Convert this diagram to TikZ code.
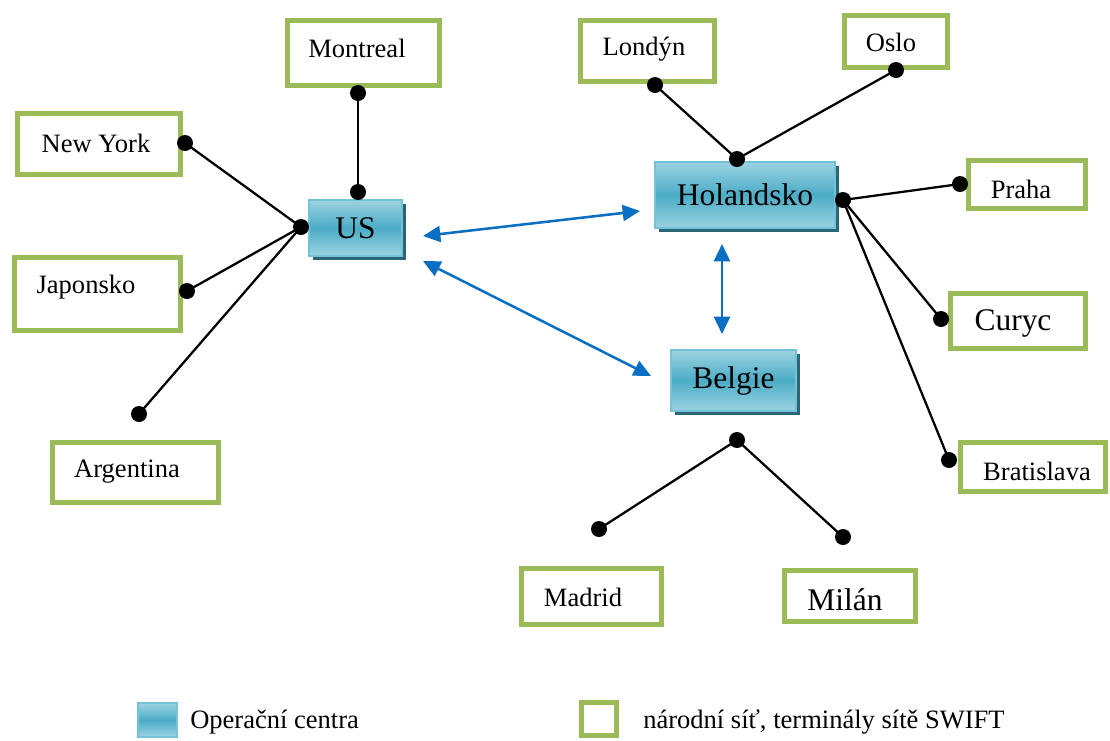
\documentclass[tikz,border=0pt]{standalone}
\usepackage{fontspec}
\setmainfont{Liberation Serif}
\usetikzlibrary{arrows.meta,shadows}
\definecolor{termgreen}{HTML}{9BBB59}
\definecolor{boxlight}{HTML}{9CD3E2}
\definecolor{boxmid}{HTML}{4BACC6}
\definecolor{boxedge}{HTML}{72C3D8}
\definecolor{shadowc}{HTML}{2C6676}
\definecolor{arrowblue}{HTML}{0A6FC2}
\begin{document}
\begin{tikzpicture}[x=0.75pt,y=-0.75pt,
  term/.style={draw=termgreen, line width=3.75pt, fill=white, inner sep=0pt, outer sep=0pt},
  ctrfill/.style={draw=boxedge, line width=1.5pt, top color=boxlight, bottom color=boxlight, middle color=boxmid, inner sep=0pt},
  ctr/.style={ctrfill, drop shadow={shadow xshift=3pt, shadow yshift=-3pt, fill=shadowc, opacity=1}, font=\fontsize{23.6}{28}\selectfont},
  sm/.style={font=\fontsize{19.9}{24}\selectfont, inner sep=0pt},
  lg/.style={font=\fontsize{23.6}{28}\selectfont, inner sep=0pt},
  dot/.style={circle, fill=black, inner sep=0pt, minimum size=12pt},
  link/.style={line width=1.7pt},
  biarrow/.style={arrowblue, line width=1.9pt, {Triangle[length=13pt,width=12pt]}-{Triangle[length=13pt,width=12pt]}}
]
\useasboundingbox (0,0) rectangle (1110,740);

% terminal boxes
\node[term, minimum width=114pt, minimum height=48.75pt] (mtlB) at (363.5,53) {};
\node[sm] (mtl) at (357,48) {Montreal};
\node[term, minimum width=122.25pt, minimum height=45.75pt] (nyB) at (99,144) {};
\node[sm] (ny) at (96,143) {New York};
\node[term, minimum width=124.5pt, minimum height=54.75pt] (jpB) at (97.5,294) {};
\node[sm] (jp) at (86,287) {Japonsko};
\node[term, minimum width=124.5pt, minimum height=45pt] (arB) at (135.5,472.5) {};
\node[sm] (ar) at (127,472) {Argentina};
\node[term, minimum width=100.5pt, minimum height=45.75pt] (lonB) at (647.5,51) {};
\node[sm] (lon) at (644,49) {Londýn};
\node[term, minimum width=77.25pt, minimum height=39pt] (osB) at (896,41.5) {};
\node[sm] (os) at (891,42) {Oslo};
\node[term, minimum width=87.75pt, minimum height=36pt] (prB) at (1027,184.5) {};
\node[sm] (pr) at (1021,189) {Praha};
\node[term, minimum width=101.25pt, minimum height=41.25pt] (cuB) at (1018,321) {};
\node[lg] (cu) at (1013,323) {Curyc};
\node[term, minimum width=108.75pt, minimum height=36.75pt] (brB) at (1033,467) {};
\node[sm] (br) at (1037,471) {Bratislava};
\node[term, minimum width=105pt, minimum height=42pt] (maB) at (591.5,596.5) {};
\node[sm] (ma) at (583,597) {Madrid};
\node[term, minimum width=98.25pt, minimum height=38.25pt] (miB) at (850,596) {};
\node[lg] (mi) at (845,600) {Milán};

% operation centres
\node[ctr, minimum width=69.75pt, minimum height=42pt] (us) at (355.5,228) {US};
\node[ctr, minimum width=135pt, minimum height=49.5pt] (hol) at (745,195) {Holandsko};
\node[ctr, minimum width=93.75pt, minimum height=45.75pt] (bel) at (733.5,380.5) {Belgie};

% dots
\node[dot] (dMtl) at (358,93) {};
\node[dot] (dUsT) at (358,192) {};
\node[dot] (dUsL) at (301,227) {};
\node[dot] (dNy) at (185,143) {};
\node[dot] (dJp) at (187,291) {};
\node[dot] (dAr) at (139,414) {};
\node[dot] (dLon) at (655,85) {};
\node[dot] (dOs) at (896,70) {};
\node[dot] (dHolT) at (737,159) {};
\node[dot] (dHolR) at (843,200) {};
\node[dot] (dPr) at (960,184) {};
\node[dot] (dCu) at (941,319) {};
\node[dot] (dBr) at (949,460) {};
\node[dot] (dBelB) at (737,440) {};
\node[dot] (dMa) at (599,529) {};
\node[dot] (dMi) at (843,537) {};

% links
\draw[link] (dMtl.center) -- (dUsT.center);
\draw[link] (dNy.center) -- (dUsL.center);
\draw[link] (dJp.center) -- (dUsL.center);
\draw[link] (dAr.center) -- (dUsL.center);
\draw[link] (dLon.center) -- (dHolT.center);
\draw[link] (dOs.center) -- (dHolT.center);
\draw[link] (dHolR.center) -- (dPr.center);
\draw[link] (dHolR.center) -- (dCu.center);
\draw[link] (dHolR.center) -- (dBr.center);
\draw[link] (dBelB.center) -- (dMa.center);
\draw[link] (dBelB.center) -- (dMi.center);

% arrow ends
\coordinate (aUsH) at (423,236);
\coordinate (aHolU) at (640,211);
\coordinate (aUsB) at (423,261);
\coordinate (aBelU) at (651,376);
\coordinate (aHolB) at (722,244);
\coordinate (aBelH) at (722,334);
\draw[biarrow] (aUsH) -- (aHolU);
\draw[biarrow] (aUsB) -- (aBelU);
\draw[biarrow] (aHolB) -- (aBelH);

% legend
\node[ctrfill, minimum width=29.25pt, minimum height=25.5pt] (legC) at (157.5,720) {};
\node[sm, anchor=west] (legCt) at (190,722) {Operační centra};
\node[term, minimum width=26.25pt, minimum height=24.75pt] (legT) at (599,719) {};
\node[sm, anchor=west] (legTt) at (643,722) {národní síť, terminály sítě SWIFT};
\end{tikzpicture}
\end{document}
